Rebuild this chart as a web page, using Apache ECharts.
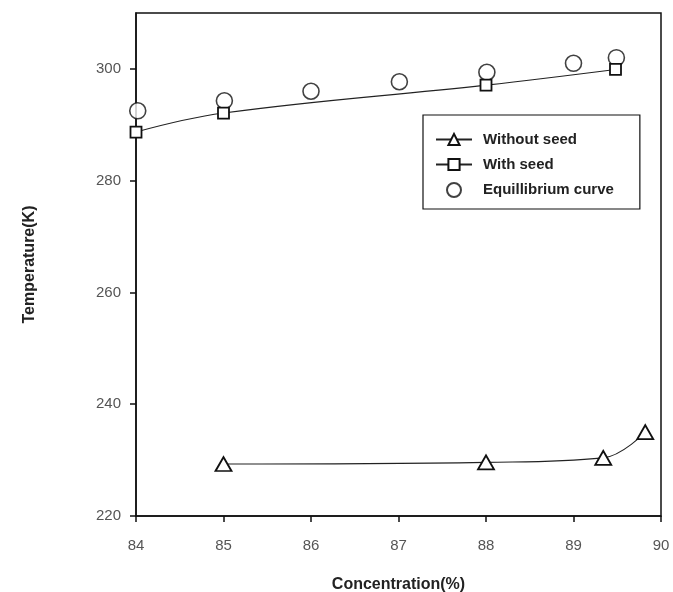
<!DOCTYPE html>
<html><head><meta charset="utf-8">
<script src="https://cdn.jsdelivr.net/npm/echarts@6/dist/echarts.min.js"></script>
<style>html,body{margin:0;padding:0;background:#fff}#c{width:673px;height:592px}</style>
</head><body><div id="c"></div>
<script>
const withoutSeedX = [85, 88, 89.34, 89.82];
const withoutSeedY = [229.3, 229.6, 230.4, 235.0];
const withSeedX = [84, 85, 88, 89.48];
const withSeedY = [288.7, 292.1, 297.1, 299.9];
const equilX = [84.02, 85.01, 86.0, 87.01, 88.01, 89.0, 89.49];
const equilY = [292.5, 294.3, 296.0, 297.7, 299.4, 301.0, 302.0];
const xTicks = [84, 85, 86, 87, 88, 89, 90];
const yTicks = [220, 240, 260, 280, 300];

const zip = (a, b) => a.map((v, i) => [v, b[i]]);
const chart = echarts.init(document.getElementById('c'));
const font = 'Liberation Sans, Arial, sans-serif';
chart.setOption({
  animation: false,
  backgroundColor: '#fff',
  grid: { left: 136, right: 12, top: 13, bottom: 76, outerBoundsMode: 'none', containLabel: false, show: true, borderColor: '#111', borderWidth: 1.5 },
  legend: {
    orient: 'vertical', left: 423, top: 115,
    borderColor: '#111', borderWidth: 1.2, borderRadius: 0,
    padding: [17, 26, 11, 12], itemGap: 10, itemWidth: 36, itemHeight: 14,
    textStyle: { fontFamily: font, fontWeight: 'bold', fontSize: 15, color: '#222', padding: [0, 0, 0, 6] },
    data: ['Without seed', 'With seed', 'Equillibrium curve']
  },
  xAxis: {
    type: 'value', min: 84, max: 90, interval: 1,
    name: 'Concentration(%)', nameLocation: 'middle', nameGap: 61,
    nameTextStyle: { fontFamily: font, fontWeight: 'bold', fontSize: 16, color: '#222' },
    axisLine: { lineStyle: { color: '#111', width: 1.5 } },
    axisTick: { show: true, inside: false, length: 6, lineStyle: { color: '#111', width: 1.5 }, customValues: xTicks },
    axisLabel: { fontFamily: font, fontSize: 15, color: '#555', margin: 22, customValues: xTicks },
    splitLine: { show: false }
  },
  yAxis: {
    type: 'value', min: 220, max: 310, interval: 20,
    name: 'Temperature(K)', nameLocation: 'middle', nameGap: 98, nameRotate: 90,
    nameTextStyle: { fontFamily: font, fontWeight: 'bold', fontSize: 16, color: '#222' },
    axisLine: { lineStyle: { color: '#111', width: 1.5 } },
    axisTick: { show: true, inside: false, length: 6, lineStyle: { color: '#111', width: 1.5 }, customValues: yTicks },
    axisLabel: { fontFamily: font, fontSize: 15, color: '#555', margin: 15, customValues: yTicks },
    splitLine: { show: false }
  },
  series: [
    {
      name: 'Without seed', type: 'line', smooth: 0.4,
      data: zip(withoutSeedX, withoutSeedY),
      symbol: 'triangle', symbolSize: [16, 14],
      lineStyle: { color: '#222', width: 1.1 },
      itemStyle: { color: '#fff', borderColor: '#111', borderWidth: 1.8 }
    },
    {
      name: 'With seed', type: 'line', smooth: 0.4,
      data: zip(withSeedX, withSeedY),
      symbol: 'rect', symbolSize: 11,
      lineStyle: { color: '#222', width: 1.1 },
      itemStyle: { color: '#fff', borderColor: '#111', borderWidth: 1.8 }
    },
    {
      name: 'Equillibrium curve', type: 'scatter',
      data: zip(equilX, equilY),
      symbol: 'circle', symbolSize: 16,
      itemStyle: { color: '#fff', borderColor: '#111', borderWidth: 1.6 }
    }
  ]
});
</script></body></html>
